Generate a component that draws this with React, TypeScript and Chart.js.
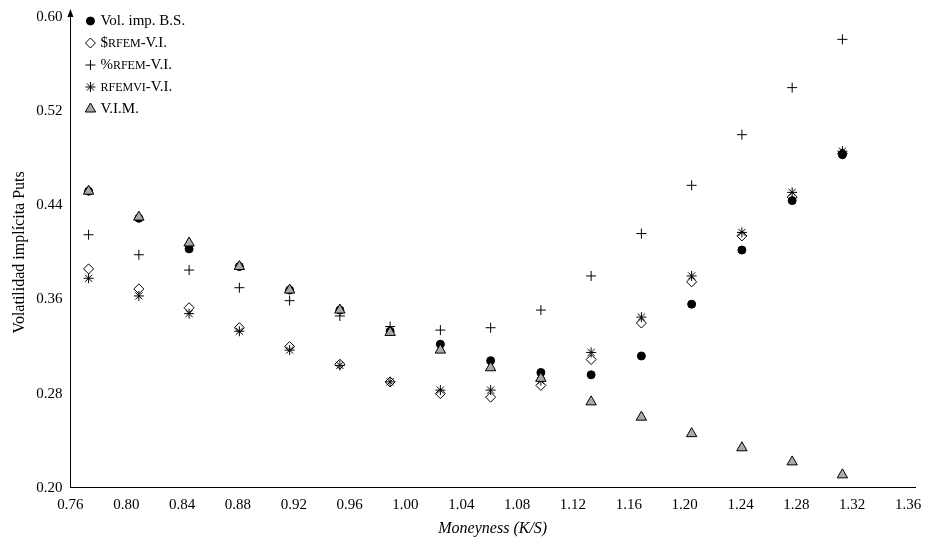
import React, { useEffect, useRef } from "react";
import Chart from "chart.js/auto";
import { drawPoint } from "chart.js/helpers";

const moneyness = [0.773, 0.809, 0.845, 0.881, 0.917, 0.953, 0.989, 1.025, 1.061, 1.097, 1.133, 1.169, 1.205, 1.241, 1.277, 1.313];
const volBS = [0.452, 0.429, 0.403, 0.388, 0.368, 0.351, 0.333, 0.322, 0.308, 0.298, 0.296, 0.312, 0.356, 0.402, 0.444, 0.483];
const rfemDollar = [0.386, 0.369, 0.353, 0.336, 0.320, 0.305, 0.290, 0.280, 0.277, 0.287, 0.309, 0.340, 0.375, 0.414, 0.447, 0.484];
const rfemPct = [0.415, 0.398, 0.385, 0.370, 0.359, 0.346, 0.337, 0.334, 0.336, 0.351, 0.380, 0.416, 0.457, 0.500, 0.540, 0.581];
const rfemvi = [0.378, 0.363, 0.348, 0.333, 0.317, 0.304, 0.290, 0.283, 0.283, 0.291, 0.315, 0.345, 0.380, 0.417, 0.451, 0.486];
const vim = [0.452, 0.430, 0.408, 0.388, 0.368, 0.351, 0.332, 0.317, 0.302, 0.293, 0.273, 0.260, 0.246, 0.234, 0.222, 0.211];
const yTicks = [0.2, 0.28, 0.36, 0.44, 0.52, 0.6];

const serif = "'Liberation Serif', 'DejaVu Serif', serif";
const pts = (ys: number[]) => moneyness.map((x, i) => ({ x, y: ys[i] }));

// legend entries: [prefix, small caps part, suffix]
const legendParts: [string, string, string][] = [
  ["Vol. imp. B.S.", "", ""],
  ["$", "RFEM", "-V.I."],
  ["%", "RFEM", "-V.I."],
  ["", "RFEMVI", "-V.I."],
  ["V.I.M.", "", ""],
];

const extras = {
  id: "extras",
  afterDraw(chart: any) {
    const { ctx, chartArea } = chart;
    ctx.save();
    // y axis arrow
    ctx.fillStyle = "#000";
    ctx.beginPath();
    ctx.moveTo(chartArea.left, chartArea.top - 8);
    ctx.lineTo(chartArea.left - 3, chartArea.top);
    ctx.lineTo(chartArea.left + 3, chartArea.top);
    ctx.closePath();
    ctx.fill();
    // legend
    let y = chartArea.top + 4;
    chart.data.datasets.forEach((ds: any, i: number) => {
      const px = chartArea.left + 20;
      ctx.strokeStyle = "#000";
      ctx.lineWidth = 1;
      ctx.fillStyle = ds.pointBackgroundColor;
      drawPoint(ctx, { pointStyle: ds.pointStyle, radius: ds.pointRadius, rotation: 0, borderWidth: 1 } as any, px, y);
      const [a, b, c] = legendParts[i];
      ctx.fillStyle = "#000";
      ctx.textBaseline = "middle";
      let tx = px + 10;
      ctx.font = `15px ${serif}`;
      ctx.fillText(a, tx, y);
      tx += ctx.measureText(a).width;
      ctx.font = `12px ${serif}`;
      ctx.fillText(b, tx, y + 1);
      tx += ctx.measureText(b).width;
      ctx.font = `15px ${serif}`;
      ctx.fillText(c, tx, y);
      y += 22;
    });
    ctx.restore();
  },
};

const App = () => {
  const ref = useRef<HTMLCanvasElement | null>(null);

  useEffect(() => {
    document.body.style.margin = "0";
    if (!ref.current) return;
    const ctx = ref.current.getContext("2d");
    if (!ctx) return;

    const mk = (label: string, ys: number[], style: string, r: number, fill: string, order: number) => ({
      label, data: pts(ys), showLine: false, pointStyle: style, pointRadius: r, order,
      pointBorderColor: "#000", pointBackgroundColor: fill, pointBorderWidth: 1,
    });

    const chart = new Chart(ctx, {
      type: "scatter",
      data: {
        datasets: [
          mk("Vol. imp. B.S.", volBS, "circle", 4, "#000", 2),
          mk("$RFEM-V.I.", rfemDollar, "rectRot", 5, "rgba(255,255,255,0)", 1),
          mk("%RFEM-V.I.", rfemPct, "cross", 5, "#000", 1),
          mk("RFEMVI-V.I.", rfemvi, "star", 5, "#000", 1),
          mk("V.I.M.", vim, "triangle", 6, "#aaa", 0),
        ] as any,
      },
      options: {
        animation: false,
        responsive: false,
        layout: { padding: { top: 17, right: 13, left: 6, bottom: 13 } },
        plugins: { legend: { display: false }, tooltip: { enabled: false } },
        scales: {
          x: {
            type: "linear", min: 0.76, max: 1.365,
            grid: { display: false, drawTicks: true, tickLength: 5, color: "#000" },
            border: { color: "#000" },
            afterBuildTicks: (s: any) => {
              const t = [];
              for (let v = 0.76; v < 1.3651; v += 0.04) t.push({ value: Math.round(v * 100) / 100 });
              s.ticks = t;
            },
            ticks: { color: "#000", font: { family: serif, size: 15 }, maxRotation: 0, callback: (v: any) => Number(v).toFixed(2) },
            title: { display: true, text: "Moneyness (K/S)", color: "#000", font: { family: serif, size: 16, style: "italic" }, padding: { top: 2 } },
          },
          y: {
            type: "linear", min: 0.2, max: 0.6,
            grid: { display: false, tickLength: 5 },
            border: { color: "#000" },
            afterBuildTicks: (s: any) => { s.ticks = yTicks.map((value) => ({ value })); },
            ticks: { color: "#000", font: { family: serif, size: 15 }, callback: (v: any) => Number(v).toFixed(2) },
            title: { display: true, text: "Volatilidad implícita Puts", color: "#000", font: { family: serif, size: 16 } },
          },
        },
      },
      plugins: [extras],
    });

    return () => {
      chart.destroy();
    };
  }, []);

  return <canvas ref={ref} width={928} height={555} style={{ display: "block" }} />;
};

export default App;
